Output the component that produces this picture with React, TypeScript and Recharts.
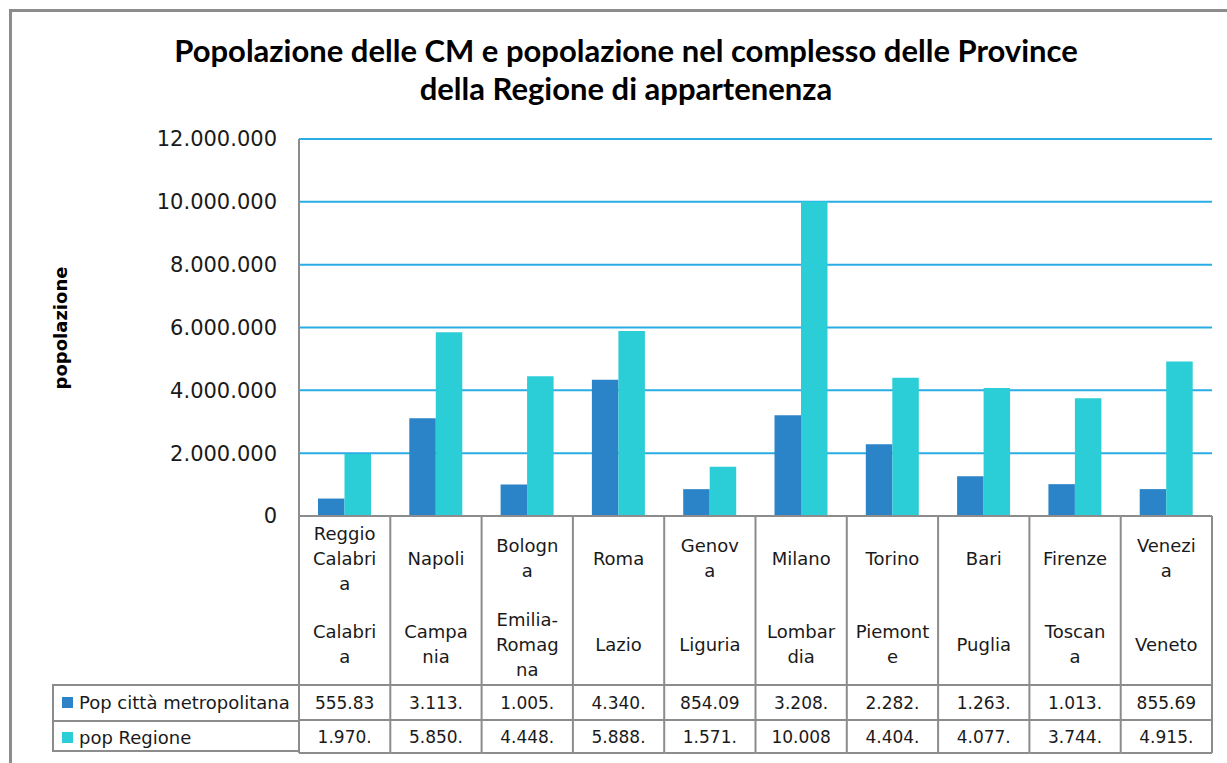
import { BarChart, Bar, XAxis, YAxis, CartesianGrid } from 'recharts'

const CITIES = ['Reggio Calabria', 'Napoli', 'Bologna', 'Roma', 'Genova', 'Milano', 'Torino', 'Bari', 'Firenze', 'Venezia']
// wrapped as the cells show them
const CITY_LINES = [['Reggio', 'Calabri', 'a'], ['Napoli'], ['Bologn', 'a'], ['Roma'], ['Genov', 'a'], ['Milano'], ['Torino'], ['Bari'], ['Firenze'], ['Venezi', 'a']]
const REGION_LINES = [['Calabri', 'a'], ['Campa', 'nia'], ['Emilia-', 'Romag', 'na'], ['Lazio'], ['Liguria'], ['Lombar', 'dia'], ['Piemont', 'e'], ['Puglia'], ['Toscan', 'a'], ['Veneto']]

const POP_CM = [555836, 3113898, 1005831, 4340474, 854099, 3208509, 2282127, 1263820, 1013348, 855696]
const POP_REGIONE = [1970521, 5850850, 4448146, 5888472, 1571053, 10008349, 4404246, 4077166, 3744398, 4915123]

const Y_TICKS = [0, 2000000, 4000000, 6000000, 8000000, 10000000, 12000000]

const SERIES = [
  { key: 'cm', name: 'Pop città metropolitana', color: '#2B83C8', values: POP_CM },
  { key: 'reg', name: 'pop Regione', color: '#2BCDD6', values: POP_REGIONE },
]

const data = CITIES.map((c, i) => ({ city: c, cm: POP_CM[i], reg: POP_REGIONE[i] }))

const W = 1227
const H = 763
const PLOT_L = 299
const PLOT_R = 1212
const PLOT_T = 139
const PLOT_B = 516
const TABLE_B = 753
const BAND = (PLOT_R - PLOT_L) / CITIES.length
const ROWS = [685, 720, 753]

const GRID = '#2AADE5'
const LINE = '#8c8c8c'
const TXT = '#1a1a1a'
const FONT = '"DejaVu Sans", sans-serif'

const fmt = (v: number) => String(Math.round(v)).replace(/\B(?=(\d{3})+(?!\d))/g, '.')

function Lines({ x, cy, lines }: { x: number; cy: number; lines: string[] }) {
  const lh = 25
  return (
    <>
      {lines.map((l, k) => (
        <text key={k} x={x} y={cy - ((lines.length - 1) * lh) / 2 + k * lh} textAnchor="middle"
          dominantBaseline="central" fontSize={18} fill={TXT} fontFamily={FONT}>{l}</text>
      ))}
    </>
  )
}

function TableTick(props: any) {
  const { x, payload } = props
  const i = payload.index ?? props.index
  const l = x - BAND / 2
  const r = x + BAND / 2
  return (
    <g>
      {i === 0 && <line x1={l} x2={l} y1={PLOT_B} y2={TABLE_B} stroke={LINE} strokeWidth={2} />}
      <line x1={r} x2={r} y1={PLOT_B} y2={TABLE_B} stroke={LINE} strokeWidth={2} />
      {ROWS.map((ry) => <line key={ry} x1={l} x2={r} y1={ry} y2={ry} stroke={LINE} strokeWidth={2} />)}
      <Lines x={x} cy={558} lines={CITY_LINES[i]} />
      <Lines x={x} cy={644} lines={REGION_LINES[i]} />
      {SERIES.map((s, k) => (
        <text key={s.key} x={x} y={(ROWS[k] + ROWS[k + 1]) / 2} textAnchor="middle" dominantBaseline="central"
          fontSize={17} fill={TXT} fontFamily={FONT}>{fmt(s.values[i]).slice(0, 6)}</text>
      ))}
    </g>
  )
}

export default function App() {
  return (
    <div style={{ position: 'absolute', left: 0, top: 0, width: W, height: H, background: '#fff', overflow: 'hidden' }}>
      <div style={{ position: 'absolute', left: 9, top: 9, width: W, height: H, borderTop: `3px solid ${LINE}`, borderLeft: `3px solid ${LINE}` }} />
      <div style={{ position: 'absolute', left: 0, width: 1252, top: 31, textAlign: 'center', fontFamily: 'Lato, sans-serif', fontWeight: 700, fontSize: 31, lineHeight: '38px', color: '#000' }}>
        Popolazione delle CM e popolazione nel complesso delle Province<br />della Regione di appartenenza
      </div>
      <div style={{ position: 'absolute', left: 60, top: 328, transform: 'translate(-50%, -50%) rotate(-90deg)', fontFamily: FONT, fontWeight: 700, fontSize: 18, color: '#000', whiteSpace: 'nowrap' }}>
        popolazione
      </div>
      <BarChart width={W} height={H} data={data} margin={{ top: PLOT_T, right: W - PLOT_R, left: PLOT_L - 220, bottom: 0 }}
        barGap={0} barSize={26.5} style={{ position: 'absolute', left: 0, top: 0 }}>
        <CartesianGrid vertical={false} stroke={GRID} strokeWidth={2} />
        <YAxis type="number" domain={[0, 12000000]} ticks={Y_TICKS} width={220} tickSize={0} tickMargin={22}
          axisLine={{ stroke: LINE, strokeWidth: 2 }} tickLine={false} tickFormatter={fmt}
          tick={{ fill: TXT, fontSize: 21, fontFamily: FONT }} />
        <XAxis dataKey="city" height={H - PLOT_B} interval={0} tickSize={0} tickMargin={0}
          axisLine={{ stroke: LINE, strokeWidth: 2 }} tickLine={false} tick={<TableTick />} />
        {SERIES.map((s) => (
          <Bar key={s.key} dataKey={s.key} name={s.name} fill={s.color} isAnimationActive={false} />
        ))}
      </BarChart>
      {/* legend column of the data table */}
      <div style={{ position: 'absolute', left: 52, top: ROWS[0] - 1, width: PLOT_L - 52, height: TABLE_B - ROWS[0], borderTop: `2px solid ${LINE}`, borderLeft: `2px solid ${LINE}`, borderBottom: `2px solid ${LINE}`, boxSizing: 'border-box' }}>
        {SERIES.map((s, k) => (
          <div key={s.key} style={{ position: 'absolute', left: 0, right: 0, top: ROWS[k] - ROWS[0] - 1, height: ROWS[k + 1] - ROWS[k], borderTop: k ? `2px solid ${LINE}` : 'none', display: 'flex', alignItems: 'center', fontFamily: FONT, fontSize: 18, color: TXT, boxSizing: 'border-box' }}>
            <span style={{ width: 11, height: 11, background: s.color, marginLeft: 8, marginRight: 6, flex: 'none' }} />
            {s.name}
          </div>
        ))}
      </div>
    </div>
  )
}
